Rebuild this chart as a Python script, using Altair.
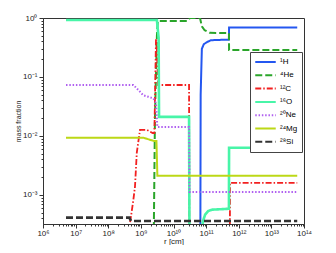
import altair as alt
import pandas as pd

# ---- data ----
series = ["¹H", "⁴He", "¹²C", "¹⁶O", "²⁰Ne", "²⁴Mg", "²⁸Si"]

h1_r = [6.4e10, 6.8e10, 7.4e10, 8.5e10, 1.07e11, 1.4e11, 5.0e11, 5.05e11, 6.2e13]
h1_y = [1e-8, 0.05, 0.30, 0.36, 0.39, 0.42, 0.43, 0.69, 0.69]

he4_r = [5.07e6, 2.4e9, 2.5e9, 2.7e9, 3.1e9, 3.3e9, 2.6e10, 3.2e10, 6.5e10, 7.4e10, 9.0e10, 1.3e11, 5.0e11, 5.05e11, 6.2e13]
he4_y = [1e-6, 1e-6, 3e-4, 0.02, 0.5, 0.89, 0.89, 1.0, 1.0, 0.72, 0.62, 0.56, 0.557, 0.287, 0.287]

c12_r = [4.4e8, 4.64e8, 5.9e8, 6.6e8, 7.5e8, 9.4e8, 1.55e9, 2.3e9, 2.6e9, 2.9e9, 3.0e9, 3.4e9, 3.0e10, 3.1e10, 5.2e11, 5.4e11, 6.2e13]
c12_y = [1e-6, 3.3e-4, 8.3e-4, 1.37e-3, 5.2e-3, 0.0126, 0.0126, 0.0112, 0.0112, 0.42, 0.42, 0.073, 0.073, 1e-6, 1e-6, 0.0016, 0.0016]

o16_r = [5.07e6, 3.1e9, 3.5e9, 3.6e9, 3.0e10, 3.1e10, 7.6e10, 7.9e10, 9.3e10, 1.15e11, 1.5e11, 5.0e11, 5.05e11, 6.2e13]
o16_y = [0.925, 0.925, 0.46, 0.021, 0.021, 1e-4, 1e-4, 3.5e-4, 4.6e-4, 5.3e-4, 5.6e-4, 5.8e-4, 0.0063, 0.0063]

ne20_r = [5.07e6, 5.9e8, 8.4e8, 1.18e9, 1.7e9, 2.4e9, 2.9e9, 3.2e9, 3.0e10, 3.1e10, 6.2e13]
ne20_y = [0.073, 0.073, 0.060, 0.049, 0.046, 0.0435, 0.036, 0.0142, 0.0142, 0.00112, 0.00112]

mg24_r = [5.07e6, 1.2e9, 2.5e9, 3.0e9, 3.2e9, 6.2e13]
mg24_y = [0.0093, 0.0093, 0.0082, 0.0082, 0.0021, 0.0021]

si28_r = [5.07e6, 4.4e8, 5.0e8, 6.2e13]
si28_y = [4.1e-4, 4.1e-4, 3.6e-4, 3.6e-4]

colors = ["#2457f0", "#2aa52a", "#f22020", "#48f5a8", "#b060f0", "#bcd816", "#333333"]
dashes = [[1, 0], [7, 3], [6, 2, 1.5, 2], [1, 0], [1.5, 1.8], [1, 0], [7, 3]]
widths = [2, 2, 1.8, 2.6, 2, 2, 2.6]

rs = [h1_r, he4_r, c12_r, o16_r, ne20_r, mg24_r, si28_r]
ys = [h1_y, he4_y, c12_y, o16_y, ne20_y, mg24_y, si28_y]

rows = []
for i, (name, rr, yy) in enumerate(zip(series, rs, ys)):
    for j, (a, b) in enumerate(zip(rr, yy)):
        rows.append({"series": name, "r": a, "y": b, "order": j, "w": widths[i]})
df = pd.DataFrame(rows)

x_ticks = [m * 10.0 ** e for e in range(6, 14) for m in range(1, 10)] + [1e14]
y_ticks = [m * 10.0 ** e for e in range(-4, 0) for m in range(1, 10)] + [1.0]
y_ticks = [v for v in y_ticks if v >= 3.2e-4]

is_pow = "abs(log(datum.value)/LN10 - round(log(datum.value)/LN10)) < 0.001"
x_label = ("%s ? '10' + ['⁶','⁷','⁸','⁹','¹⁰','¹¹','¹²','¹³','¹⁴'][round(log(datum.value)/LN10)-6] : ''" % is_pow)
y_label = ("%s ? '10' + ['⁰','⁻¹','⁻²','⁻³'][-round(log(datum.value)/LN10)] : ''" % is_pow)

chart = alt.Chart(df).mark_line(clip=True).encode(
    x=alt.X("r:Q", scale=alt.Scale(type="log", domain=[1e6, 1e14], nice=False),
            axis=alt.Axis(title="r [cm]", values=x_ticks, labelExpr=x_label, grid=False,
                          tickSize={"condition": {"test": is_pow, "value": 4}, "value": 2},
                          labelFontSize=8, titleFontSize=8, titleFontWeight="normal",
                          labelFont="Liberation Sans", titleFont="Liberation Sans",
                          domainColor="#333", tickColor="#333", labelColor="#222", titleColor="#222",
                          labelPadding=1, titlePadding=0, labelFlush=False)),
    y=alt.Y("y:Q", scale=alt.Scale(type="log", domain=[3.2e-4, 1], nice=False),
            axis=alt.Axis(title="mass fraction", values=y_ticks, labelExpr=y_label, grid=False,
                          tickSize={"condition": {"test": is_pow, "value": 4}, "value": 2},
                          labelFontSize=8, titleFontSize=7, titleFontWeight="normal",
                          labelFont="Liberation Sans", titleFont="Liberation Sans",
                          domainColor="#333", tickColor="#333", labelColor="#222", titleColor="#222",
                          labelPadding=2, titlePadding=1, labelFlush=False)),
    color=alt.Color("series:N", sort=series,
                    scale=alt.Scale(domain=series, range=colors),
                    legend=alt.Legend(title=None, orient="none", legendX=207, legendY=34,
                                      symbolType="stroke", symbolSize=420, symbolStrokeWidth=2,
                                      clipHeight=12, rowPadding=1.3,
                                      labelFontSize=8, labelFont="Liberation Sans",
                                      strokeColor="#444", fillColor="white", padding=4,
                                      labelOffset=3, symbolLimit=10)),
    strokeDash=alt.StrokeDash("series:N", sort=series,
                              scale=alt.Scale(domain=series, range=dashes), legend=None),
    strokeWidth=alt.StrokeWidth("w:Q", scale=None, legend=None),
    order="order:Q",
    detail="series:N",
).properties(
    width=261, height=206,
    autosize=alt.AutoSizeParams(type="none"),
    padding={"left": 35, "top": 10, "right": 24, "bottom": 21},
).configure_view(stroke="#333", strokeWidth=1)

chart.save("out.html", embed_options={"renderer": "svg", "actions": False})
